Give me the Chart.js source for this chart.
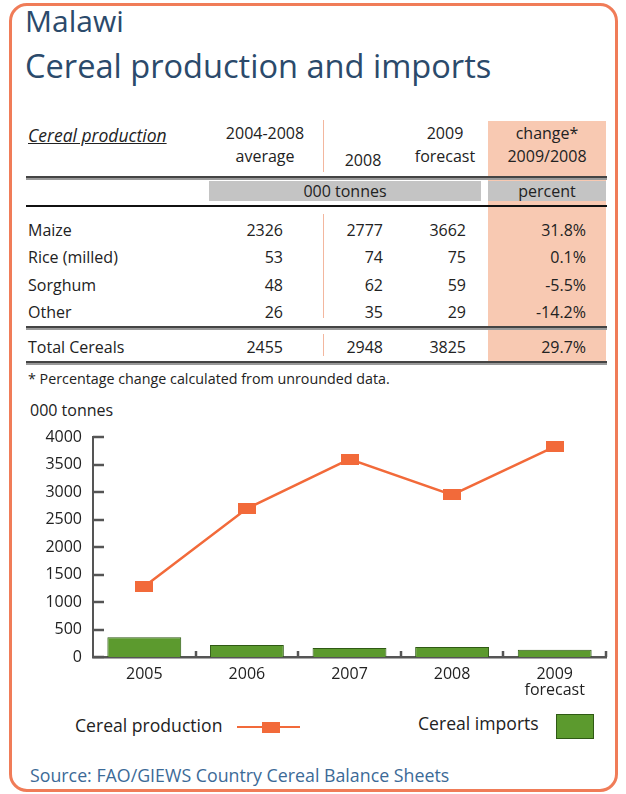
<!DOCTYPE html>
<html><head><meta charset="utf-8">
<script src="https://cdn.jsdelivr.net/npm/chart.js@4/dist/chart.umd.min.js"></script>
<style>
html,body{margin:0;padding:0;background:#fff;}
body{width:626px;height:794px;position:relative;overflow:hidden;font-family:"Open Sans",sans-serif;color:#222;}
.frame{position:absolute;left:9px;top:3px;width:603px;height:783px;border:3px solid #f07c58;border-radius:18px;}
.abs{position:absolute;white-space:nowrap;}
.t1{left:25px;top:1px;font-size:30px;line-height:40px;color:#2b4a6b;}
.t2{left:25px;top:44px;font-size:32.6px;line-height:44px;color:#2b4a6b;}
.pink{position:absolute;left:488px;top:121px;width:118px;height:242px;background:#f8c9b2;}
.band{position:absolute;top:181px;height:20px;background:#c4c4c4;}
.hl{position:absolute;left:26px;width:581px;}
.vl{position:absolute;left:323px;width:1px;background:#f3b79f;}
.cell{position:absolute;font-size:16px;line-height:18px;white-space:nowrap;}
.r{text-align:right;}
.c{text-align:center;}
#wrap{position:absolute;left:0;top:400px;width:626px;height:310px;}
</style></head>
<body>
<div class="frame"></div>
<div class="abs t1">Malawi</div>
<div class="abs t2">Cereal production and imports</div>
<div id="table"></div>
<div class="abs" style="left:30px;top:399px;font-size:16px;">000 tonnes</div>
<div id="wrap"><canvas id="c" width="626" height="310"></canvas></div>
<div id="legend"></div>
<div class="abs" style="left:30px;top:763px;font-size:17.8px;color:#3c6a97;">Source: FAO/GIEWS Country Cereal Balance Sheets</div>
<script>
// ---- Data ----
const tableRows = ["Maize","Rice (milled)","Sorghum","Other"];
const avg0408 = ["2326","53","48","26"];
const prod2008 = ["2777","74","62","35"];
const fc2009 = ["3662","75","59","29"];
const change = ["31.8%","0.1%","-5.5%","-14.2%"];
const totalRow = ["Total Cereals","2455","2948","3825","29.7%"];
const years = [["2005"],["2006"],["2007"],["2008"],["2009","forecast"]];
const production = [1280, 2700, 3600, 2948, 3825];
const imports = [360, 220, 165, 180, 130];
const yTicks = [0,500,1000,1500,2000,2500,3000,3500,4000];

// ---- Table (HTML) ----
const T = document.getElementById('table');
function add(html){T.insertAdjacentHTML('beforeend',html);}
add('<div class="pink"></div>');
add('<div class="vl" style="top:120px;height:52px"></div><div class="vl" style="top:214px;height:104px"></div><div class="vl" style="top:334px;height:22px"></div>');
add('<div class="cell" style="left:28px;top:126px;font-size:17.5px;font-style:italic;text-decoration:underline;">Cereal production</div>');
add('<div class="cell c" style="left:215px;top:124px;width:100px;">2004-2008<br><span style="line-height:28px">average</span></div>');
add('<div class="cell c" style="left:333px;top:151px;width:60px;">2008</div>');
add('<div class="cell c" style="left:405px;top:124px;width:80px;">2009<br><span style="line-height:28px">forecast</span></div>');
add('<div class="cell c" style="left:488px;top:124px;width:118px;">change*<br><span style="line-height:28px">2009/2008</span></div>');
add('<div class="hl" style="top:176px;height:2px;background:#444;"></div><div class="hl" style="top:178px;height:2px;background:#999;"></div>');
add('<div class="band" style="left:209px;width:272px;"></div><div class="band" style="left:488px;width:118px;"></div>');
add('<div class="cell c" style="left:209px;top:182px;width:272px;">000 tonnes</div>');
add('<div class="cell c" style="left:488px;top:182px;width:118px;">percent</div>');
add('<div class="hl" style="top:205px;height:2px;background:#111;"></div>');
const rowY = [221,248,276,303];
tableRows.forEach((name,i)=>{
  const y=rowY[i];
  add(`<div class="cell" style="left:28px;top:${y}px;">${name}</div>`);
  add(`<div class="cell r" style="left:200px;top:${y}px;width:83px;">${avg0408[i]}</div>`);
  add(`<div class="cell r" style="left:320px;top:${y}px;width:63px;">${prod2008[i]}</div>`);
  add(`<div class="cell r" style="left:400px;top:${y}px;width:66px;">${fc2009[i]}</div>`);
  add(`<div class="cell r" style="left:490px;top:${y}px;width:96px;">${change[i]}</div>`);
});
add('<div class="hl" style="top:326px;height:2px;background:#444;"></div><div class="hl" style="top:328px;height:2px;background:#999;"></div>');
add(`<div class="cell" style="left:28px;top:338px;">${totalRow[0]}</div>`);
add(`<div class="cell r" style="left:200px;top:338px;width:83px;">${totalRow[1]}</div>`);
add(`<div class="cell r" style="left:320px;top:338px;width:63px;">${totalRow[2]}</div>`);
add(`<div class="cell r" style="left:400px;top:338px;width:66px;">${totalRow[3]}</div>`);
add(`<div class="cell r" style="left:490px;top:338px;width:96px;">${totalRow[4]}</div>`);
add('<div class="hl" style="top:361px;height:2px;background:#444;"></div><div class="hl" style="top:363px;height:2px;background:#999;"></div>');
add('<div class="cell" style="left:28px;top:370px;font-size:14.3px;">* Percentage change calculated from unrounded data.</div>');

// ---- Legend (HTML) ----
const L = document.getElementById('legend');
L.innerHTML = '<div class="abs" style="left:75px;top:713px;font-size:17.6px;">Cereal production</div>'+
 '<div class="abs" style="left:237px;top:726px;width:63px;height:2px;background:#f26a3a;"></div>'+
 '<div class="abs" style="left:262px;top:722px;width:18px;height:11px;background:#f26a3a;"></div>'+
 '<div class="abs" style="left:418px;top:711px;font-size:17.6px;">Cereal imports</div>'+
 '<div class="abs" style="left:556px;top:714px;width:36px;height:23px;background:#5c9a2e;border:1px solid #2f5a14;"></div>';

// ---- Chart ----
const marker = document.createElement('canvas');
marker.width = 18; marker.height = 11;
const mctx = marker.getContext('2d'); mctx.fillStyle = '#f26a3a'; mctx.fillRect(0,0,18,11);

const tickPlugin = {
  id:'innerTicks',
  afterDraw(chart){
    const ctx = chart.ctx, x = chart.scales.x, y = chart.scales.y, a = chart.chartArea;
    ctx.save();
    ctx.strokeStyle = '#555'; ctx.lineWidth = 2.5;
    y.ticks.forEach(t=>{
      const py = Math.round(y.getPixelForValue(t.value));
      ctx.beginPath(); ctx.moveTo(a.left, py); ctx.lineTo(a.left+11, py); ctx.stroke();
    });
    const step = x.getPixelForValue(1) - x.getPixelForValue(0);
    for(let i=0;i<x.ticks.length;i++){
      const px = Math.round(x.getPixelForValue(i) + step/2);
      ctx.beginPath(); ctx.moveTo(px, a.bottom); ctx.lineTo(px, a.bottom-6); ctx.stroke();
    }
    ctx.restore();
  }
};

new Chart(document.getElementById('c'), {
  type:'bar',
  data:{
    labels: years,
    datasets:[
      {type:'line', label:'Cereal production', data: production, borderColor:'#f26a3a', borderWidth:2.5,
       pointStyle: marker, pointRadius: 9, pointHoverRadius:9, order:0, tension:0, fill:false},
      {type:'bar', label:'Cereal imports', data: imports, backgroundColor:'#5c9a2e', borderColor:'#2f5a14',
       borderWidth:1, barPercentage:0.72, categoryPercentage:1, order:1}
    ]
  },
  options:{
    responsive:false, animation:false,
    layout:{padding:{top:37,right:20,left:0,bottom:0}},
    plugins:{legend:{display:false}, tooltip:{enabled:false}},
    scales:{
      x:{
        grid:{display:false, drawTicks:false},
        border:{display:true,color:'#555',width:2.5},
        ticks:{color:'#222',font:{family:'Open Sans',size:16,lineHeight:1.0},padding:9, maxRotation:0},
        afterFit(s){ s.height = 53; }
      },
      y:{
        min:0,max:4000,
        afterBuildTicks(s){ s.ticks = yTicks.map(v=>({value:v})); },
        grid:{display:false, drawTicks:false},
        border:{display:true,color:'#555',width:2},
        ticks:{color:'#222',font:{family:'Open Sans',size:16},padding:11, callback:(v)=>String(v)},
        afterFit(s){ s.width = 93; }
      }
    }
  },
  plugins:[tickPlugin]
});
</script>
</body></html>
